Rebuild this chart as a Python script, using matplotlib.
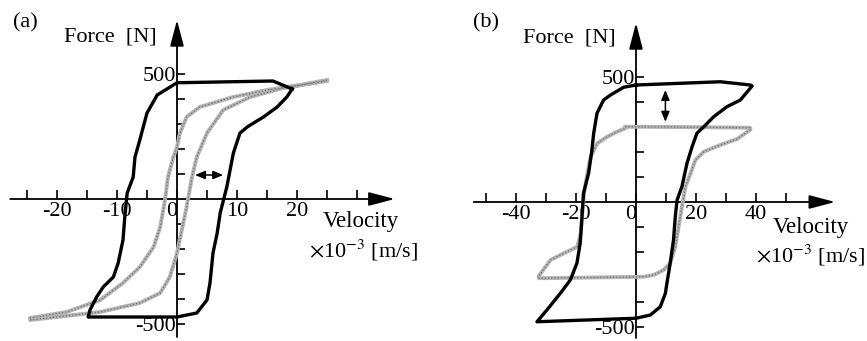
import matplotlib.pyplot as plt
import matplotlib.ticker as mticker

plt.rcParams['font.family'] = ['Liberation Serif', 'DejaVu Serif']
plt.rcParams['mathtext.fontset'] = 'stix'

# ---- (a) velocity x1e-3 m/s, force N ----
a_black_v = [19.2, 16.0, 0.0, -3.3, -5.0, -6.2, -7.0, -7.3, -8.3, -8.7, -9.0, -9.8,
             -10.6, -12.3, -13.4, -14.5, -14.8, 0.0, 3.3, 5.0, 5.5, 6.0, 6.7, 7.2,
             8.3, 9.4, 10.5, 11.7, 14.4, 16.7, 18.3, 19.2]
a_black_f = [440, 472, 465, 416, 344, 236, 168, 88, 24, -72, -164, -256,
             -312, -352, -392, -444, -472, -472, -456, -404, -336, -216, -136, -56,
             48, 184, 264, 288, 328, 368, 408, 440]

a_gray_v = [25.0, 20.5, 15.0, 9.4, 3.8, 1.6, 0.5, 0.0, -0.6, -1.5, -2.0, -2.8,
            -3.9, -6.2, -9.0, -12.8, -18.4, -24.5, -24.5, -12.8, -6.2, -2.8, -1.2,
            0.0, 0.8, 1.6, 2.5, 3.3, 5.0, 7.7, 12.2, 17.7, 25.0]
a_gray_f = [476, 456, 436, 408, 368, 328, 264, 208, 168, 88, -4, -112,
            -192, -272, -336, -404, -452, -476, -484, -452, -416, -376, -312,
            -216, -124, -32, 88, 168, 264, 356, 408, 444, 472]

# ---- (b) ----
b_black_v = [0.0, 28.1, 38.1, 38.7, 34.8, 30.3, 25.9, 22.6, 20.3, 18.7, 17.0, 15.3,
             13.7, 13.1, 12.5, 11.4, 10.3, 9.8, 8.1, 4.8, 0.0, -33.0, -29.7, -25.2,
             -21.9, -19.7, -18.6, -18.0, -17.5, -15.8, -14.7, -14.1, -13.0, -10.8,
             -8.5, -4.1, 0.0]
b_black_f = [468, 481, 468, 464, 408, 381, 341, 301, 275, 221, 155, 61,
             8, -59, -152, -245, -325, -365, -419, -452, -465, -479, -432, -365,
             -312, -245, -165, -59, 35, 115, 208, 275, 355, 408,
             428, 459, 468]

b_gray_v = [-3.6, 0.0, 22.6, 38.1, 38.1, 33.7, 28.1, 22.6, 19.8, 18.2, 16.5, 15.3,
            14.2, 13.1, 11.4, 9.2, 5.9, 2.6, -32.4, -32.4, -28.5, -24.0, -19.6,
            -18.4, -17.9, -17.3, -16.2, -15.1, -12.9, -9.6, -6.3, -3.6]
b_gray_f = [301, 301, 299, 297, 289, 252, 228, 201, 168, 115, 61, -19,
            -99, -179, -245, -272, -292, -299, -305, -296, -232, -205, -179,
            -125, -45, 35, 115, 181, 235, 261, 281, 295]

a_labels = ['-20', '-10', '0', '10', '20']
b_labels = ['-40', '-20', '0', '20', '40']

fig = plt.figure(figsize=(8.67, 3.41), dpi=100)
ax_a = fig.add_axes([0, 0, 433 / 867, 1])
ax_b = fig.add_axes([434 / 867, 0, 433 / 867, 1])


def gray_line(ax, v, f):
    ax.plot(v, f, color='#b4b4b4', lw=2.8, solid_joinstyle='round', zorder=3)
    ax.plot(v, f, color='#6e6e6e', lw=0.9, ls=(0, (1, 1.6)), zorder=3)


def setup(ax, xlim, ylim, major, labels, minor, xline, yline):
    ax.set_xlim(xlim)
    ax.set_ylim(ylim)
    ax.patch.set_alpha(0)
    for s in ['top', 'right']:
        ax.spines[s].set_visible(False)
    for s in ['left', 'bottom']:
        ax.spines[s].set_position(('data', 0))
        ax.spines[s].set_color('none')
    ax.xaxis.set_major_locator(mticker.FixedLocator(major))
    ax.xaxis.set_major_formatter(mticker.FixedFormatter(labels))
    ax.xaxis.set_minor_locator(mticker.FixedLocator(minor))
    ax.yaxis.set_major_locator(mticker.FixedLocator([-500, 500]))
    ax.yaxis.set_major_formatter(mticker.FixedFormatter(['-500', '500']))
    ax.yaxis.set_minor_locator(mticker.FixedLocator(
        [-400, -300, -200, -100, 100, 200, 300, 400]))
    ax.tick_params(axis='x', which='both', direction='in', length=6.5,
                   width=1.2, labelsize=16, pad=2)
    ax.tick_params(axis='y', which='both', direction='in', length=6,
                   width=1.2, labelsize=16, pad=1)
    for t in ax.get_xticklabels():
        if t.get_text() == '0':
            t.set_horizontalalignment('right')
    arrow = dict(arrowstyle='-|>,head_length=1.6,head_width=0.42',
                 lw=1.3, color='k', shrinkA=0, shrinkB=0, mutation_scale=10)
    ax.annotate('', xy=(xline[1], 0), xytext=(xline[0], 0), arrowprops=arrow)
    ax.annotate('', xy=(0, yline[1]), xytext=(0, yline[0]), arrowprops=arrow)


# panel (a)
setup(ax_a, (-29.5, 42.67), (-568, 796), [-20, -10, 0, 10, 20], a_labels,
      [-25, -15, -5, 5, 15, 25, 30], (-27.8, 36.3), (-552, 716))
gray_line(ax_a, a_gray_v, a_gray_f)
ax_a.plot(a_black_v, a_black_f, color='k', lw=2.4, solid_joinstyle='round', zorder=4)
ax_a.annotate('', xy=(7.7, 96), xytext=(3.0, 96),
              arrowprops=dict(arrowstyle='<|-|>,head_length=0.6,head_width=0.25',
                              lw=1.1, color='k', shrinkA=0, shrinkB=0))
ax_a.text(-27.3, 704, '(a)', fontsize=16, ha='left', va='center')
ax_a.text(-18.9, 648, 'Force  [N]', fontsize=16, ha='left', va='center')
ax_a.text(24.3, -92, 'Velocity', fontsize=16.5, ha='left', va='center')
ax_a.text(22.0, -204, r'$\times$10$^{-3}$ [m/s]', fontsize=16, ha='left', va='center')

# panel (b)
setup(ax_b, (-67.33, 77), (-556, 808), [-40, -20, 0, 20, 40], b_labels,
      [-50, -30, -10, 10, 30, 50], (-54.1, 66.4), (-544, 716))
gray_line(ax_b, b_gray_v, b_gray_f)
ax_b.plot(b_black_v, b_black_f, color='k', lw=2.4, solid_joinstyle='round', zorder=4)
ax_b.annotate('', xy=(9.8, 321), xytext=(9.8, 448),
              arrowprops=dict(arrowstyle='<|-|>,head_length=0.6,head_width=0.25',
                              lw=1.1, color='k', shrinkA=0, shrinkB=0))
ax_b.text(-54.3, 716, '(b)', fontsize=16, ha='left', va='center')
ax_b.text(-37.6, 656, 'Force  [N]', fontsize=16, ha='left', va='center')
ax_b.text(45.7, -100, 'Velocity', fontsize=16.5, ha='left', va='center')
ax_b.text(40.0, -212, r'$\times$10$^{-3}$ [m/s]', fontsize=16, ha='left', va='center')

fig.savefig('out.png', dpi=100)
